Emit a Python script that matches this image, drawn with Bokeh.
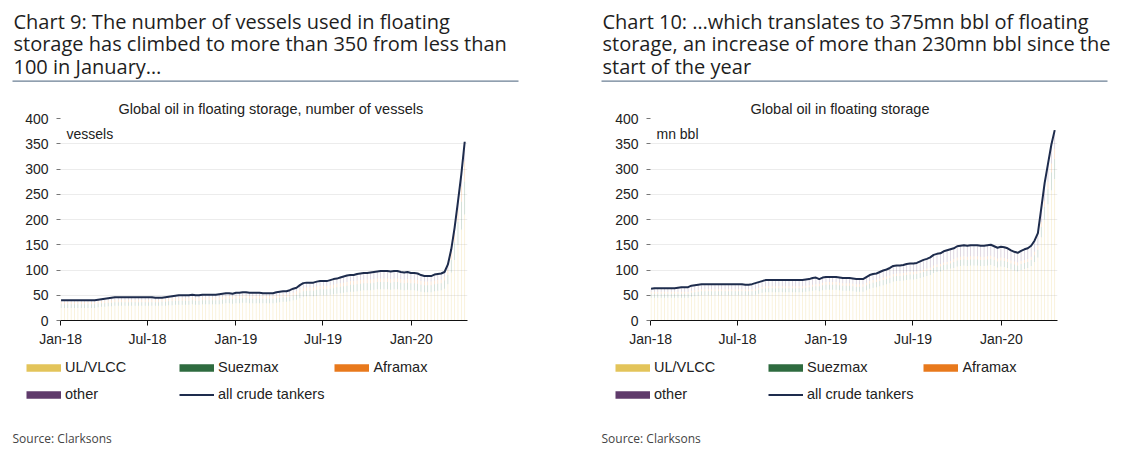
import pandas as pd
from bokeh.plotting import figure
from bokeh.models import (Range1d, FixedTicker, DatetimeTickFormatter, Label,
                          Legend, LegendItem, ColumnDataSource)
from bokeh.layouts import row, column
from bokeh.embed import file_html
from bokeh.resources import INLINE
from bokeh.core.properties import value

# ---------------- data (weekly) ----------------
dates = pd.date_range("2018-01-02", periods=121, freq="7D")

vessels_total = [
    40, 40, 40, 40, 40, 40, 40, 40, 40, 40,
    40, 41, 42, 43, 44, 45, 46, 46, 46, 46,
    46, 46, 46, 46, 46, 46, 46, 46, 45, 45,
    45, 46, 47, 48, 49, 50, 50, 50, 50, 51,
    50, 50, 51, 51, 51, 51, 51, 52, 53, 54,
    54, 53, 55, 55, 56, 56, 55, 55, 55, 55,
    54, 54, 54, 54, 56, 57, 58, 58, 60, 63,
    65, 70, 74, 75, 75, 75, 77, 78, 78, 78,
    80, 82, 83, 85, 87, 89, 90, 90, 92, 93,
    94, 94, 95, 96, 97, 98, 98, 98, 97, 98,
    98, 96, 95, 96, 94, 94, 93, 90, 88, 88,
    88, 91, 92, 93, 96, 111, 141, 184, 236, 290,
    354]
vessels_vlcc = [
    25, 25, 25, 25, 25, 25, 25, 25, 25, 25,
    25, 26, 27, 27, 28, 28, 29, 29, 29, 29,
    29, 29, 29, 29, 29, 29, 29, 29, 29, 29,
    29, 29, 30, 30, 31, 31, 31, 31, 31, 32,
    31, 31, 32, 32, 32, 32, 32, 32, 33, 34,
    34, 33, 34, 34, 35, 35, 34, 34, 34, 34,
    34, 34, 34, 34, 35, 36, 37, 37, 38, 40,
    41, 44, 47, 48, 48, 48, 49, 50, 50, 50,
    51, 52, 53, 54, 55, 56, 57, 57, 58, 59,
    60, 60, 60, 61, 62, 62, 62, 62, 61, 62,
    62, 61, 60, 61, 60, 60, 59, 57, 56, 56,
    56, 58, 59, 60, 63, 72, 95, 120, 150, 180,
    210]
vessels_suez = [7] * 30 + [8] * 20 + [9] * 20 + [
    10, 11, 11, 11, 11, 11, 12, 12, 12, 12,
    12, 12, 13, 13, 13, 13, 14, 14, 14, 14] + [14] * 24 + [16, 18, 25, 35, 45, 55, 65]
vessels_afra = [5] * 30 + [6] * 40 + [7] * 44 + [8, 10, 15, 20, 25, 30, 40]

barrels_total = [
    63, 64, 64, 64, 64, 64, 64, 64, 65, 66,
    66, 66, 69, 70, 71, 72, 72, 72, 72, 72,
    72, 72, 72, 72, 72, 72, 72, 72, 71, 71,
    72, 74, 76, 78, 80, 80, 80, 80, 80, 80,
    80, 80, 80, 80, 80, 80, 81, 82, 84, 85,
    82, 85, 86, 86, 86, 86, 85, 84, 84, 84,
    83, 82, 82, 82, 86, 90, 92, 93, 96, 99,
    101, 104, 108, 109, 109, 110, 112, 113, 113, 114,
    117, 120, 122, 125, 130, 132, 133, 137, 139, 141,
    143, 147, 148, 149, 148, 149, 149, 149, 148, 148,
    149, 150, 147, 144, 146, 145, 143, 139, 136, 134,
    138, 141, 143, 148, 158, 173, 222, 272, 310, 348,
    377]
barrels_vlcc = [
    45, 45, 45, 45, 45, 45, 45, 45, 45, 45,
    45, 45, 47, 48, 49, 50, 50, 50, 50, 50,
    50, 50, 50, 50, 50, 50, 50, 50, 50, 50,
    50, 51, 53, 55, 56, 56, 56, 56, 56, 56,
    56, 56, 56, 56, 56, 56, 57, 58, 59, 60,
    58, 60, 61, 61, 61, 61, 60, 59, 59, 59,
    58, 57, 57, 57, 60, 63, 65, 66, 68, 70,
    72, 74, 77, 78, 78, 79, 80, 81, 81, 82,
    84, 86, 88, 90, 94, 96, 97, 100, 101, 103,
    104, 107, 108, 109, 108, 109, 109, 109, 108, 108,
    109, 110, 108, 105, 107, 106, 104, 101, 99, 97,
    100, 102, 104, 108, 116, 125, 165, 200, 230, 258,
    280]
barrels_suez = [8] * 50 + [10] * 40 + [12] * 24 + [13, 15, 20, 25, 30, 35, 40]
barrels_afra = [4] * 50 + [5] * 40 + [6] * 24 + [7, 8, 10, 12, 15, 18, 20]

tick_dates = ["2018-01-01", "2018-07-01", "2019-01-01", "2019-07-01", "2020-01-01"]
y_ticks = [0, 50, 100, 150, 200, 250, 300, 350, 400]
series_names = ["UL/VLCC", "Suezmax", "Aframax", "other"]
series_colors = ["#e3c45a", "#2e6b3f", "#e8791c", "#5f3a6b"]
line_color = "#1e2c4d"

TITLE_FONT = "Open Sans"
AXIS_FONT = "Liberation Sans"
DAY = 86400000.0
NAN = float("nan")


def no_align(fig):
    if "frame_align" in fig.properties():
        fig.frame_align = False


def blank_fig(width, height):
    f = figure(width=width, height=height, x_range=Range1d(0, width),
               y_range=Range1d(height, 0), x_axis_type=None, y_axis_type=None,
               toolbar_location=None, output_backend="svg", min_border=0)
    f.min_border_left = f.min_border_right = f.min_border_top = f.min_border_bottom = 0
    f.grid.visible = False
    f.outline_line_color = None
    no_align(f)
    return f


def make_panel(width, left_pad, border_left, border_right, title_lines, subtitle,
               subtitle_left, unit, total, vlcc, suez, afra):
    # ---- heading: page y 0..96 ----
    tf = blank_fig(width, 96)
    tf.text(x=[left_pad + 1] * 3, y=[20.5, 43.0, 65.6], text=title_lines,
            text_font=value(TITLE_FONT), text_font_size="20px",
            text_baseline="middle", text_color="#1e1e1e")
    tf.segment(x0=[left_pad], y0=[80.7], x1=[left_pad + 506], y1=[80.7],
               line_color="#6b7f94", line_width=1.2)

    # ---- chart: page y 96..352 ----
    x0 = pd.Timestamp("2018-01-01").value / 1e6 - 0.2 * DAY
    x1 = x0 + 847 * DAY
    cf = figure(width=width, height=256, x_axis_type="datetime",
                x_range=Range1d(x0, x1), y_range=Range1d(0, 400),
                toolbar_location=None, output_backend="svg",
                min_border_left=border_left, min_border_right=border_right,
                min_border_top=22, min_border_bottom=32)
    no_align(cf)
    cf.outline_line_color = None
    cf.xgrid.visible = False
    cf.ygrid.grid_line_color = "#ececec"

    cf.title.text = subtitle
    cf.title.align = "left"
    cf.title.offset = subtitle_left - border_left
    cf.title.standoff = 3
    cf.title.text_font = AXIS_FONT
    cf.title.text_font_size = "14.5px"
    cf.title.text_font_style = "normal"
    cf.title.text_color = "#222222"

    other = [t - a - b - c for t, a, b, c in zip(total, vlcc, suez, afra)]
    src = ColumnDataSource(dict(date=dates, vlcc=vlcc, suez=suez, afra=afra, other=other))
    cf.vbar_stack(["vlcc", "suez", "afra", "other"], x="date", width=1.4 * DAY,
                  color=series_colors, fill_alpha=0.3, line_color=None, source=src)
    cf.line(dates, total, line_color=line_color, line_width=2)

    xa = cf.xaxis[0]
    xa.ticker = FixedTicker(ticks=[pd.Timestamp(d).value / 1e6 for d in tick_dates])
    xa.formatter = DatetimeTickFormatter(months="%b-%y", days="%b-%y", years="%b-%y",
                                         hours="%b-%y", minutes="%b-%y")
    xa.axis_line_color = "#111111"
    xa.major_tick_line_color = "#111111"
    xa.major_tick_out = 5
    xa.major_tick_in = 0
    xa.minor_tick_line_color = None
    xa.major_label_text_font = AXIS_FONT
    xa.major_label_text_font_size = "14px"
    xa.major_label_text_color = "#222222"
    xa.major_label_standoff = 5

    ya = cf.yaxis[0]
    ya.ticker = FixedTicker(ticks=y_ticks)
    cf.ygrid.ticker = FixedTicker(ticks=y_ticks)
    ya.axis_line_color = None
    ya.major_tick_line_color = "#777777"
    ya.major_tick_out = 4
    ya.major_tick_in = 0
    ya.minor_tick_line_color = None
    ya.major_label_text_font = AXIS_FONT
    ya.major_label_text_font_size = "14px"
    ya.major_label_text_color = "#222222"
    ya.major_label_standoff = 8

    cf.add_layout(Label(x=6, y=187, x_units="screen", y_units="screen",
                        text=unit, text_baseline="alphabetic",
                        text_font=AXIS_FONT, text_font_size="14px", text_color="#222222"))

    # ---- legend + source: page y 352..461 ----
    lf = blank_fig(width, 109)
    swatches = [lf.line(x=[NAN], y=[NAN], line_color=c, line_width=7.5, line_cap="butt")
                for c in series_colors]
    tot_sw = lf.line(x=[NAN], y=[NAN], line_color=line_color, line_width=2)
    items = [LegendItem(label=n, renderers=[s]) for n, s in zip(series_names, swatches)]
    items.append(LegendItem(label="all crude tankers", renderers=[tot_sw]))
    leg = Legend(items=items, location=(left_pad + 14, 58.5),
                 orientation="horizontal", ncols=3,
                 glyph_width=35, glyph_height=17, label_height=17,
                 spacing=10, label_width=104, label_standoff=4, padding=0, margin=0,
                 border_line_color=None, background_fill_alpha=0,
                 label_text_font=AXIS_FONT, label_text_font_size="14.5px",
                 label_text_color="#222222")
    lf.add_layout(leg)
    lf.text(x=[left_pad], y=[85.5], text=["Source: Clarksons"], text_font=value(TITLE_FONT),
            text_font_size="12px", text_baseline="middle", text_color="#444444")

    return column(tf, cf, lf)


p1 = make_panel(598, 12, 60, 131,
                ["Chart 9: The number of vessels used in floating",
                 "storage has climbed to more than 350 from less than",
                 "100 in January\u2026"],
                "Global oil in floating storage, number of vessels", 118, "vessels",
                vessels_total, vessels_vlcc, vessels_suez, vessels_afra)
p2 = make_panel(532, 3, 52, 73,
                ["Chart 10: \u2026which translates to 375mn bbl of floating",
                 "storage, an increase of more than 230mn bbl since the",
                 "start of the year"],
                "Global oil in floating storage", 152, "mn bbl",
                barrels_total, barrels_vlcc, barrels_suez, barrels_afra)

p = row(p1, p2)
open("out.html", "w").write(file_html(p, INLINE))
